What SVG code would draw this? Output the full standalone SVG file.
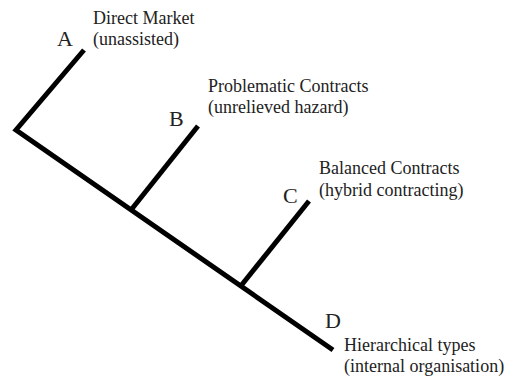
<svg xmlns="http://www.w3.org/2000/svg" width="513" height="378" viewBox="0 0 513 378">
<style>
.ln{stroke:#000;stroke-width:5;fill:none;stroke-linejoin:miter}
.lbl{font-family:"Liberation Serif",serif;font-size:18px;fill:#222}
.let{font-family:"Liberation Serif",serif;font-size:22px;fill:#222}
</style>
<rect width="513" height="378" fill="#fff"/>
<g id="connectors">
<polyline class="ln" points="84,50 16,130 333,350"/>
<line class="ln" x1="131" y1="210" x2="198" y2="126"/>
<line class="ln" x1="240" y1="287" x2="309" y2="201"/>
</g>
<g id="node-A">
<text class="let" x="57" y="46">A</text>
<text class="lbl" x="93" y="24">Direct Market</text>
<text class="lbl" x="93" y="45">(unassisted)</text>
</g>
<g id="node-B">
<text class="let" x="169" y="126">B</text>
<text class="lbl" x="208" y="92">Problematic Contracts</text>
<text class="lbl" x="208" y="113">(unrelieved hazard)</text>
</g>
<g id="node-C">
<text class="let" x="283" y="203">C</text>
<text class="lbl" x="319" y="174">Balanced Contracts</text>
<text class="lbl" x="319" y="196">(hybrid contracting)</text>
</g>
<g id="node-D">
<text class="let" x="325" y="328">D</text>
<text class="lbl" x="344" y="351">Hierarchical types</text>
<text class="lbl" x="344" y="372">(internal organisation)</text>
</g>
</svg>
